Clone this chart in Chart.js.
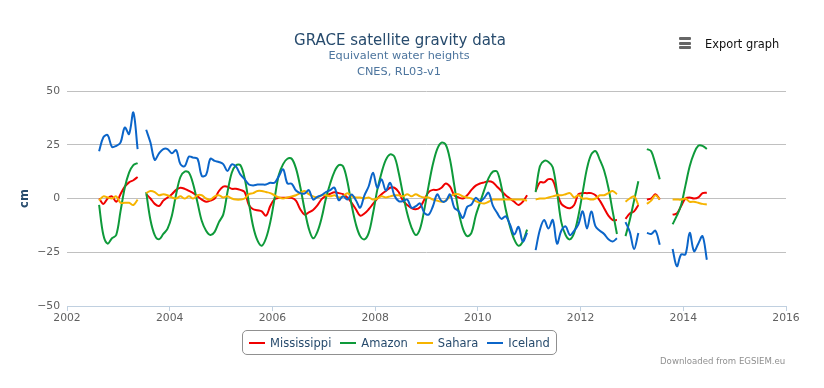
<!DOCTYPE html>
<html>
<head>
<meta charset="utf-8">
<script src="https://cdn.jsdelivr.net/npm/chart.js@4.4.1/dist/chart.umd.min.js"></script>
<style>
  body { margin: 0; background: #fff; }
  #wrap { position: relative; width: 824px; height: 388px; font-family: "DejaVu Sans", sans-serif; overflow: hidden; }
  #c { position: absolute; left: 0; top: 0; }
  .t { position: absolute; white-space: nowrap; }
  #title { left: 0; width: 800px; text-align: center; top: 31px; font-size: 15px; line-height: 18px; color: #274b6d; }
  #sub { left: 0; width: 798px; text-align: center; top: 48px; font-size: 11.3px; line-height: 16px; color: #4d759e; }
  #exp { left: 705px; top: 36px; font-size: 11.4px; line-height: 16px; color: #111; }
  .bar { position: absolute; left: 679px; width: 12px; height: 3px; background: #666; border-radius: 1px; }
  #legend { position: absolute; left: 242px; top: 330px; width: 313px; height: 23px; border: 1px solid #909090; border-radius: 5px;
            display: flex; align-items: center; justify-content: center; font-size: 11.5px; color: #274b6d; }
  .item { display: flex; align-items: center; margin: 0 4.5px; }
  .sym { width: 16px; height: 2px; margin-right: 5px; }
  #credits { left: 660px; top: 355px; font-size: 8.6px; line-height: 12px; color: #909090; }
</style>
</head>
<body>
<div id="wrap">
  <canvas id="c" width="824" height="388"></canvas>
  <div class="t" id="title">GRACE satellite gravity data</div>
  <div class="t" id="sub">Equivalent water heights<br>CNES, RL03-v1</div>
  <div class="bar" style="top:37px"></div>
  <div class="bar" style="top:41.5px"></div>
  <div class="bar" style="top:46px"></div>
  <div class="t" id="exp">Export graph</div>
  <div id="legend"></div>
  <div class="t" id="credits">Downloaded from EGSIEM.eu</div>
</div>
<script>
// Monthly time categories (mid-month)
const months = [
  '2002-08','2002-09','2002-10','2002-11','2002-12',
  '2003-01','2003-02','2003-03','2003-04','2003-05','2003-06','2003-07','2003-08','2003-09','2003-10','2003-11','2003-12',
  '2004-01','2004-02','2004-03','2004-04','2004-05','2004-06','2004-07','2004-08','2004-09','2004-10','2004-11','2004-12',
  '2005-01','2005-02','2005-03','2005-04','2005-05','2005-06','2005-07','2005-08','2005-09','2005-10','2005-11','2005-12',
  '2006-01','2006-02','2006-03','2006-04','2006-05','2006-06','2006-07','2006-08','2006-09','2006-10','2006-11','2006-12',
  '2007-01','2007-02','2007-03','2007-04','2007-05','2007-06','2007-07','2007-08','2007-09','2007-10','2007-11','2007-12',
  '2008-01','2008-02','2008-03','2008-04','2008-05','2008-06','2008-07','2008-08','2008-09','2008-10','2008-11','2008-12',
  '2009-01','2009-02','2009-03','2009-04','2009-05','2009-06','2009-07','2009-08','2009-09','2009-10','2009-11','2009-12',
  '2010-01','2010-02','2010-03','2010-04','2010-05','2010-06','2010-07','2010-08','2010-09','2010-10','2010-11','2010-12',
  '2011-01','2011-02','2011-03','2011-04','2011-05','2011-06','2011-07','2011-08','2011-09','2011-10','2011-11','2011-12',
  '2012-01','2012-02','2012-03','2012-04','2012-05','2012-06','2012-07','2012-08','2012-09','2012-10','2012-11','2012-12',
  '2013-01','2013-02','2013-03','2013-04','2013-05','2013-06','2013-07','2013-08','2013-09','2013-10','2013-11','2013-12',
  '2014-01','2014-02','2014-03','2014-04','2014-05','2014-06'
];

const mississippi = [
  0, -2.5, 0, 1, -1.5,
  2, 5.5, 7.5, 8.5, 10, null, 2, 0, -2.5, -3.5, -1, 0.5,
  2, 4, 5, 4.5, 3.5, 2.5, 1, -0.5, -1.5, -1, 0, 3.5,
  5.5, 5.5, 4.5, 4.5, 4, 3, -3, -5, -5.5, -6, -8, -3.5,
  -0.3, 0.3, 0.3, 0.3, 0.3, -1, -5, -7.5, -6.5, -5.3, -3.2, -0.3,
  1.2, 2.2, 2.9, 2.5, 2, 0.5, -2, -5, -8, -7, -5, -2.5,
  0, 2, 3.5, 5, 5, 3, -1, -3, -4.5, -5, -4, -0.5,
  3, 4, 4, 5, 7, 5.5, 1.5, 0.5, 0, 1.5, 4, 6,
  7, 7.5, 8, 7.5, 5.5, 3.5, 1.5, 0, -1.5, -3, -1.5, 1.5,
  null, 3.5, 7.5, 7.5, 9, 8.5, 2.5, -2.5, -4, -4.5, -3, 2,
  2.5, 2.5, 2.5, 1.5, -1, -4.5, -8, -10, -10, null, -9.5, -7,
  -6, -3, null, -0.5, 0, 2, -0.5, null, null, -7.5, -7, -3.5,
  0, 0.5, 0, 0.5, 2.5, 2.7
];

const amazon = [
  -3, -17, -21, -18.5, -17,
  -6, 5, 12, 15.5, 16.5, null, 3, -10, -17, -19, -16.5, -14,
  -8, 2, 10, 12.5, 12, 6.5, -2, -10.5, -15, -17, -15.5, -11,
  -7.5, 3, 12, 15.5, 15.5, 9.5, -2, -13, -19.5, -22, -18.5, -11,
  0, 11, 16, 18.5, 18.5, 14, 5.5, -5, -14, -18.5, -15.5, -9,
  0, 7, 12.5, 15.5, 15, 8, -3, -12, -17.5, -19, -16, -7,
  4, 12, 18, 20.5, 19.5, 12, 2, -7, -13.5, -17, -14, -5,
  6, 16, 23, 26, 25, 18, 6, -6, -14, -17.5, -16, -8,
  -2, 4, 9.5, 12.5, 12.5, 5.5, -5, -13, -19, -22, -20, -14.5,
  null, 3, 15, 17.5, 17, 14.5, 3, -11, -17, -19, -16, -8,
  3, 14, 20.5, 22, 18, 13, 5, -6, -16.5, null, -17.5, -10,
  -1, 8, null, 23, 22, 16, 9, null, null, -12, -8, -3,
  6, 15, 21, 24.5, 24.5, 23
];

const sahara = [
  -1, 1, 0.5, 0, 1,
  -2, -2, -2, -3, -0.5, null, 2.5, 3.5, 3, 1.5, 2, 1.5,
  0.5, 0, 1, 0, 1, 0, 1.5, 1.5, 0, -0.5, 1, 1.5,
  0.5, 1, 0, -0.5, -0.5, 0, 2, 2.5, 3.5, 3.5, 3, 2.5,
  1.5, 0.5, 0, 0.5, 1, 1.5, 2.5, 3.5, 2, 1, 0.5, 1.5,
  1.5, 1, 1.5, 0.5, 1, 2.5, 1, 0.5, 0.5, 0, 0.5, -0.5,
  0, 1, 0.5, 1, 1.5, 1.5, 1, 2, 1, 2, 1, 0.5,
  0.5, -0.5, -1, -1.5, -1, 1, 2, 2, 1, 0.5, 0, -1.2,
  -2, -2.3, -1.5, -0.5, -0.5, -0.5, -0.5, -0.5, -0.5, -0.5, -0.5, -1,
  null, -0.5, 0, 0, 0.5, 1, 1.5, 1.5, 2, 2.5, 0.5, 1.5,
  0, 0, -0.5, 0, 1.5, 1.5, 2.5, 3.5, 2, null, -1.5, 0,
  1, -3, null, -2.5, -1, 1.5, -0.5, null, null, -0.5, -0.5, -0.5,
  0, -1.5, -1.5, -2, -2.5, -2.8
];

const iceland = [
  22, 28.5, 29.5, 24, 24.5,
  26, 33, 30, 40, 23, null, 32, 26, 18, 21, 23, 23,
  21, 22.5, 16, 15, 19.5, 19, 18.5, 10.5, 11, 18.5, 17.5, 17,
  16, 12.8, 15.9, 14.8, 11.2, 9, 6.5, 6.1, 6.5, 6.5, 6.5, 7.3,
  7.3, 10.4, 13.6, 7, 6.9, 3.7, 2.5, 2.3, 3.9, -0.5, 0.8, 1.6,
  3, 3.9, 5, -0.8, 1.1, -0.5, 1.9, -0.8, -4.3, 1.5, 5.7, 12,
  5, 8.9, 3.7, 7.3, 1.4, -1.2, -1.2, -0.5, -4.3, -3.6, -2.3, -6.7,
  -7.5, -3.6, 1.9, -1.2, -1.2, 1.9, -4.3, -5.9, -9, -3.9, -2.8, 0.3,
  -1.2, 0.3, 2.7, -3.3, -6.7, -9.5, -8.3, -12.1, -16.8, -13.2, -20, -16,
  null, -24, -14.5, -10, -14, -10, -21, -15, -13, -17, -15, -12,
  -6, -14, -6, -13, -15, -16.5, -19, -20, -18.5, null, -11, -15.5,
  -23.5, -16, null, -16, -16.5, -15, -21.5, null, null, -23.5, -31.5, -26,
  -26, -16, -24.5, -21, -17.5, -28.5
];

const seriesNames = ['Mississippi', 'Amazon', 'Sahara', 'Iceland'];
const seriesColors = ['#f00000', '#0e9a3a', '#f6b400', '#0b65c9'];
const seriesValues = [mississippi, amazon, sahara, iceland];
const yTicks = [-50, -25, 0, 25, 50];
const xTicks = [2002, 2004, 2006, 2008, 2010, 2012, 2014, 2016];

function monthToYear(m) {
  const [yy, mm] = m.split('-').map(Number);
  return yy + (mm - 0.5) / 12;
}

const datasets = seriesNames.map((name, i) => ({
  label: name,
  data: months.map((m, k) => ({ x: monthToYear(m), y: seriesValues[i][k] })),
  borderColor: seriesColors[i],
  backgroundColor: seriesColors[i],
  borderWidth: 2,
  pointRadius: 0,
  tension: 0.35,
  spanGaps: false,
  fill: false,
  order: seriesNames.length - i
}));

// HTML legend
const leg = document.getElementById('legend');
seriesNames.forEach((name, i) => {
  const it = document.createElement('div');
  it.className = 'item';
  const s = document.createElement('div');
  s.className = 'sym';
  s.style.background = seriesColors[i];
  const tx = document.createElement('span');
  tx.textContent = name;
  it.appendChild(s); it.appendChild(tx);
  leg.appendChild(it);
});

const tickFont = { family: 'DejaVu Sans', size: 10.8 };

new Chart(document.getElementById('c'), {
  type: 'line',
  data: { datasets },
  options: {
    responsive: false,
    animation: false,
    devicePixelRatio: 1,
    layout: { padding: { left: 0, right: 38, top: 91, bottom: 0 } },
    plugins: { legend: { display: false }, tooltip: { enabled: false }, title: { display: false } },
    scales: {
      x: {
        type: 'linear', min: xTicks[0], max: xTicks[xTicks.length - 1],
        afterBuildTicks: s => { s.ticks = xTicks.map(v => ({ value: v })); },
        ticks: { color: '#606060', font: tickFont, padding: 1, maxRotation: 0, autoSkip: false,
                 callback: v => String(v) },
        grid: { drawOnChartArea: false, drawTicks: true, tickLength: 5, color: '#C0D0E0' },
        border: { display: true, color: '#C0D0E0' },
        afterFit: s => { s.height = 82; }
      },
      y: {
        min: yTicks[0], max: yTicks[yTicks.length - 1],
        afterBuildTicks: s => { s.ticks = yTicks.map(v => ({ value: v })); },
        ticks: { color: '#606060', font: tickFont, padding: 7,
                 callback: v => (v < 0 ? '\u2212' + Math.abs(v) : String(v)) },
        grid: { color: '#C0C0C0', drawTicks: false, lineWidth: 1 },
        border: { display: false },
        title: { display: true, text: 'cm', color: '#274b6d',
                 font: { family: 'DejaVu Sans', size: 11.5, weight: 'bold' }, padding: { top: 18, bottom: 0 } },
        afterFit: s => { s.width = 67; }
      }
    }
  }
});
</script>
</body>
</html>
